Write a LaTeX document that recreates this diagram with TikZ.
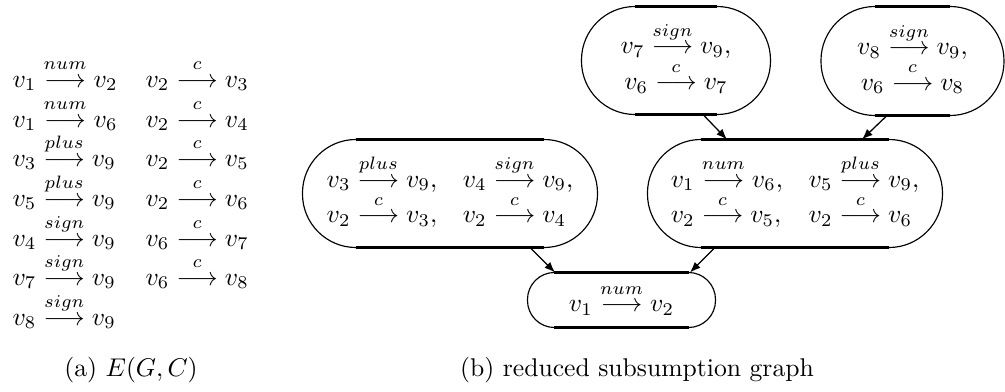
\documentclass[tikz,border=0pt]{standalone}
\usetikzlibrary{calc,arrows.meta}
\newcommand\pxu{0.39pt}
\newcommand\redge[3]{v_{#1}\stackrel{\raisebox{1pt}{$\scriptstyle #2$}}{\longrightarrow}v_{#3}}
\begin{document}
\begin{tikzpicture}[x=0.39pt,y=-0.39pt,
  stad/.style 2 args={minimum width=#1*\pxu, minimum height=#2*\pxu, inner sep=0pt},
  lbl/.style={inner sep=0pt, anchor=base west},
  captext/.style={inner sep=0pt, anchor=base},
  thinedge/.style={line width=0.45pt},
  thickedge/.style={line width=0.9pt},
  conn/.style={line width=0.5pt, -{Latex[length=4.2pt,width=3.2pt]}}]
\useasboundingbox (0,0) rectangle (1005,392);
% (a) edge list
\node[lbl] (a1) at (12,87) {$\redge{1}{num}{2}$};
\node[lbl] (a2) at (12,127) {$\redge{1}{num}{6}$};
\node[lbl] (a3) at (12,166) {$\redge{3}{plus}{9}$};
\node[lbl] (a4) at (12,206) {$\redge{5}{plus}{9}$};
\node[lbl] (a5) at (12,246) {$\redge{4}{sign}{9}$};
\node[lbl] (a6) at (12,285) {$\redge{7}{sign}{9}$};
\node[lbl] (a7) at (12,325) {$\redge{8}{sign}{9}$};
\node[lbl] (b1) at (145,87) {$\redge{2}{c}{3}$};
\node[lbl] (b2) at (145,127) {$\redge{2}{c}{4}$};
\node[lbl] (b3) at (145,166) {$\redge{2}{c}{5}$};
\node[lbl] (b4) at (145,206) {$\redge{2}{c}{6}$};
\node[lbl] (b5) at (145,246) {$\redge{6}{c}{7}$};
\node[lbl] (b6) at (145,285) {$\redge{6}{c}{8}$};
\node[captext] (capa) at (131,376) {(a) $E(G,C)$};
% (b) graph
\node[stad={188}{107}] (TL) at (676,60.5) {$\begin{array}{c}\redge{7}{sign}{9},\\[-0.3pt] \redge{6}{c}{7}\end{array}$};
\node[stad={182}{108}] (TR) at (912.5,61) {$\begin{array}{c}\redge{8}{sign}{9},\\[-0.3pt] \redge{6}{c}{8}\end{array}$};
\node[stad={294}{107}] (LM) at (450,193.5) {$\begin{array}{ll}\redge{3}{plus}{9}, & \redge{4}{sign}{9},\\[-0.3pt] \redge{2}{c}{3}, & \redge{2}{c}{4}\end{array}$};
\node[stad={294}{107}] (RM) at (795,193.5) {$\begin{array}{ll}\redge{1}{num}{6}, & \redge{5}{plus}{9},\\[-0.3pt] \redge{2}{c}{5}, & \redge{2}{c}{6}\end{array}$};
\node[stad={187}{54}] (B) at (621.5,300) {$\redge{1}{num}{2}$};
% stadium outlines
\foreach \n/\r/\rr in {TL/20.87pt/53.5, TR/21.06pt/54, LM/20.87pt/53.5, RM/20.87pt/53.5, B/10.53pt/27}{
  \draw[thinedge, rounded corners=\r] (\n.south west) rectangle (\n.north east);
  \draw[thickedge] ($(\n.north west)+(\rr,0)$) -- ($(\n.north east)+(-\rr,0)$);
  \draw[thickedge] ($(\n.south west)+(\rr,0)$) -- ($(\n.south east)+(-\rr,0)$);
}
% connectors
\draw[conn] ($(TL.south)+(27,0)$) -- ($(RM.north)+(-68,0)$);
\draw[conn] ($(TR.south)+(-25.5,0)$) -- ($(RM.north)+(67,0)$);
\draw[conn] ($(LM.south)+(80,0)$) -- ($(B.north)+(-66.5,0)$);
\draw[conn] ($(RM.south)+(-80,0)$) -- ($(B.north)+(68.5,0)$);
\node[captext] (capb) at (637,376) {(b) reduced subsumption graph};
\end{tikzpicture}
\end{document}
